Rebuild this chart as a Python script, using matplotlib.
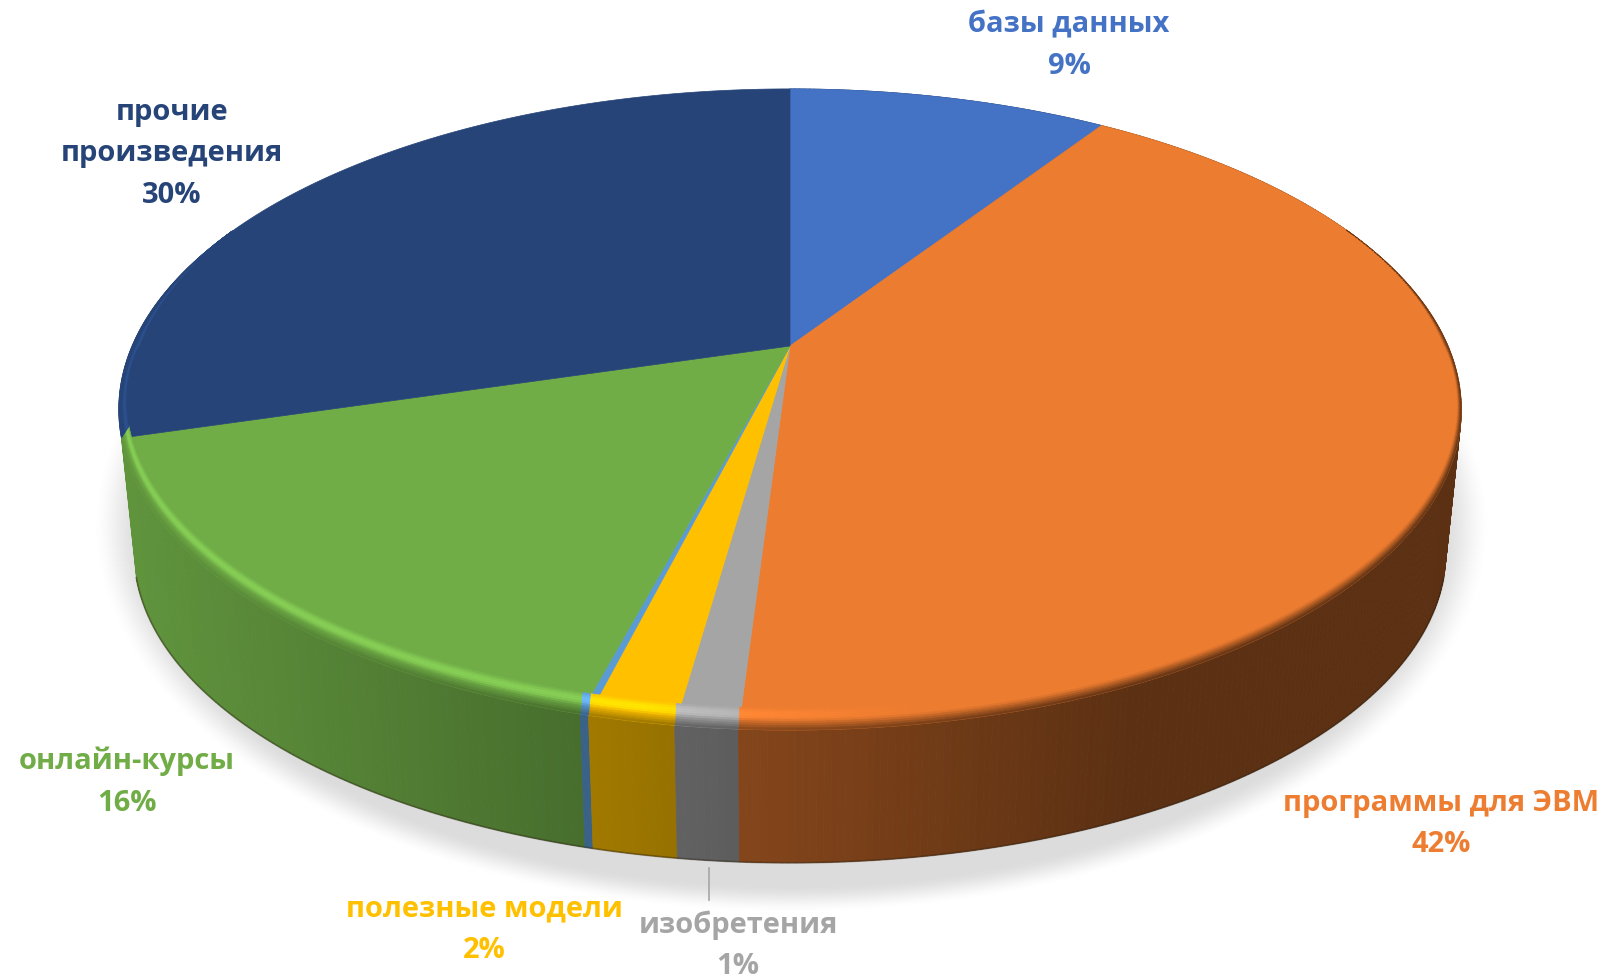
import numpy as np
import matplotlib
matplotlib.use("Agg")
import matplotlib.pyplot as plt
from matplotlib.collections import PolyCollection
from matplotlib.colors import to_rgb

# ---- data (clockwise from 12 o'clock) ----
names = ["базы данных", "программы для ЭВМ", "изобретения", "полезные модели",
         "", "онлайн-курсы", "прочие\nпроизведения"]
values = [9.3, 41.7, 1.25, 1.73, 0.17, 16.3, 29.55]
colors = ["#4472C4", "#EC7C30", "#A5A5A5", "#FFC000", "#5B9BD5", "#70AD47", "#264478"]
text_colors = ["#4472C4", "#ED7D31", "#A5A5A5", "#FFC000", "#5B9BD5", "#70AD47", "#264478"]
label_centers = [(1069, 46), (1441, 824), (738, 946), (484, 930), None, (127, 782), (172, 154)]

# ---- projection of the pie ----
W, H = 1610, 980
K = 0.198
TOP = dict(x0=790.0, y0=346.0, a=658.0, b=308.0)
BOT = dict(x0=790.0, y0=490.0, a=643.0, b=299.0)


def project(phi, p):
    u, v = np.sin(phi), -np.cos(phi)
    d = 1 - K * v
    return p["x0"] + p["a"] * u / d, p["y0"] + p["b"] * v / d


def wall_factor(x):
    return np.interp(x, [130, 570, 720, 1130, 1460], [0.85, 0.64, 0.57, 0.39, 0.39])


fig = plt.figure(figsize=(W / 100, H / 100), dpi=100, facecolor="white")
ax = fig.add_axes([0, 0, 1, 1])
ax.axis("off")

# soft shadow below the pie
yy, xx = np.mgrid[0:H:2, 0:W:2]
dist = np.sqrt(((xx - 790) / 700.0) ** 2 + ((yy - 525) / 388.0) ** 2)
shade = np.clip((1.0 - dist) / 0.075, 0, 1)
shade = shade * shade * (3 - 2 * shade) * 0.14
rgba = np.zeros(xx.shape + (4,))
rgba[..., 3] = shade
ax.imshow(rgba, extent=(0, W, H, 0), zorder=0, interpolation="bilinear")

edges = np.radians(np.concatenate([[0], np.cumsum(values)]) / np.sum(values) * 360)
slices = [(edges[i], edges[i + 1], np.array(to_rgb(colors[i]))) for i in range(len(values))]

# side wall (the last slice lies behind the rim and shows no wall)
quads, qcols, keys = [], [], []
for a0, a1, c in slices[:-1]:
    n = max(3, int(np.degrees(a1 - a0) / 0.5))
    ph = np.linspace(a0, a1, n + 1)
    xt, yt = project(ph, TOP)
    xb, yb = project(ph, BOT)
    for i in range(n):
        quads.append([(xt[i], yt[i]), (xt[i + 1], yt[i + 1]), (xb[i + 1], yb[i + 1]), (xb[i], yb[i])])
        qcols.append(np.clip(c * wall_factor((xt[i] + xt[i + 1]) / 2), 0, 1))
        keys.append(-np.cos((ph[i] + ph[i + 1]) / 2))
order = np.argsort(keys)
ax.add_collection(PolyCollection([quads[i] for i in order], facecolors=[qcols[i] for i in order],
                                 edgecolors=[qcols[i] for i in order], linewidths=0.6, zorder=1))

# dark lower edge of the wall
ph = np.linspace(np.pi - 1.29, np.pi + 1.29, 400)
xb, yb = project(ph, BOT)
ax.plot(xb, yb, color="#2a2010", alpha=0.4, lw=1.3, zorder=1.5)

# top face
for a0, a1, c in slices:
    ph = np.linspace(a0, a1, max(3, int(np.degrees(a1 - a0))) + 1)
    xt, yt = project(ph, TOP)
    pts = np.column_stack([np.r_[TOP["x0"], xt], np.r_[TOP["y0"], yt]])
    ax.fill(pts[:, 0], pts[:, 1], facecolor=c, edgecolor=c, lw=0.5, zorder=2)

# bevel along the rim
levels = np.linspace(0, 1, 11)
bq, bc = [], []
for idx, (a0, a1, c) in enumerate(slices):
    n = max(3, int(np.degrees(a1 - a0) / 0.5))
    ph = np.linspace(a0, a1, n + 1)
    xt, yt = project(ph, TOP)
    u, v = np.sin(ph), -np.cos(ph)
    w = 22 * np.sqrt(np.clip(v, 0, 1))
    side = 8 * u * np.clip((v + 0.4) / 0.4, 0, 1)
    is_back = idx == len(slices) - 1
    for i in range(n):
        if v[i] <= -0.4 and v[i + 1] <= -0.4:
            continue
        xm = (xt[i] + xt[i + 1]) / 2
        hi = np.interp(xm, [118, 640, 780, 920], [0.2, 0.2, 0.07, 0.0])
        for j in range(len(levels) - 1):
            t0, t1 = levels[j], levels[j + 1]
            tm = (t0 + t1) / 2
            bump = np.sin(np.pi * min(tm / 0.6, 1.0))
            s = 0.0 if is_back else np.clip((tm - 0.5) / 0.5, 0, 1)
            col = np.clip(c * (1 + hi * bump), 0, 1) * (1 - s) + c * wall_factor(xm) * s
            bq.append([(xt[i] - side[i] * (1 - t0), yt[i] - w[i] * (1 - t0)),
                       (xt[i + 1] - side[i + 1] * (1 - t0), yt[i + 1] - w[i + 1] * (1 - t0)),
                       (xt[i + 1] - side[i + 1] * (1 - t1), yt[i + 1] - w[i + 1] * (1 - t1)),
                       (xt[i] - side[i] * (1 - t1), yt[i] - w[i] * (1 - t1))])
            bc.append(col)
ax.add_collection(PolyCollection(bq, facecolors=bc, edgecolors=bc, linewidths=0.4, zorder=3))

# labels
for name, val, col, pos in zip(names, values, text_colors, label_centers):
    if pos is None:
        continue
    ax.text(pos[0], pos[1], f"{name}\n{val:.0f}%", color=col, ha="center", va="center",
            family="Open Sans", weight="bold", fontsize=21, linespacing=1.57, zorder=5)

# leader line for the smallest labelled slice
ax.plot([709, 709], [868, 900], color="#A6A6A6", lw=1.2, zorder=4)

ax.set_xlim(0, W)
ax.set_ylim(H, 0)
fig.savefig("out.png", dpi=100, facecolor="white")
